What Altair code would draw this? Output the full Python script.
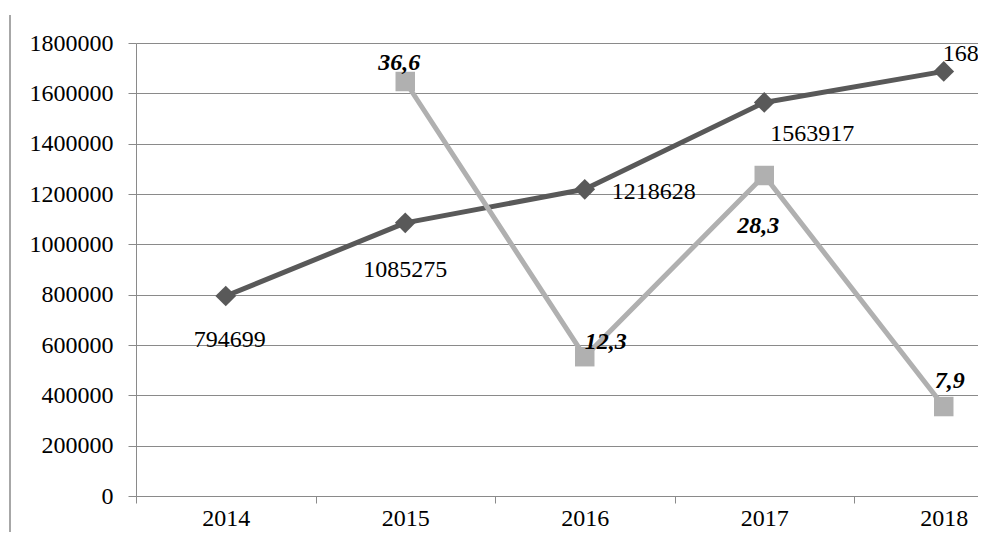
import altair as alt
import pandas as pd

# ---- data ----
years = ["2014", "2015", "2016", "2017", "2018"]
volume = [794699, 1085275, 1218628, 1563917, 1687116]
share_years = ["2015", "2016", "2017", "2018"]
share = [36.6, 12.3, 28.3, 7.9]
y_ticks = [0, 200000, 400000, 600000, 800000, 1000000, 1200000, 1400000, 1600000, 1800000]

df_vol = pd.DataFrame({"year": years, "value": volume})
df_share = pd.DataFrame({"year": share_years, "pct": share})
df_one = pd.DataFrame({"k": [0]})

GRID = "#8a8a8a"
DARK = "#595959"
LIGHT = "#b0b0b0"
FONT = "Liberation Serif"
FS = 24

x_enc = alt.X(
    "year:N",
    scale=alt.Scale(type="band", domain=years, range=[0, 897.5], paddingInner=0, paddingOuter=0),
    axis=alt.Axis(
        title=None, labelAngle=0, tickBand="extent", ticks=True, tickSize=7,
        tickColor=GRID, tickWidth=1, domainColor=GRID, domainWidth=1, grid=False,
        labelFont=FONT, labelFontSize=FS, labelColor="black", labelPadding=3,
    ),
)

y_vol = alt.Y(
    "value:Q",
    scale=alt.Scale(domain=[0, 1800000], nice=False, zero=True),
    axis=alt.Axis(
        values=y_ticks, format="d", title=None, grid=True, gridColor=GRID, gridWidth=1,
        domainColor=GRID, domainWidth=1, tickColor=GRID, tickSize=8, tickWidth=1,
        labelPadding=15, labelFont=FONT, labelFontSize=FS, labelColor="black",
    ),
)

y_pct = alt.Y("pct:Q", scale=alt.Scale(domain=[0, 40], nice=False, zero=True), axis=None)

# outer chart-area frame: left edge
frame_left = alt.Chart(df_one).mark_rule(color=GRID, strokeWidth=1.5).encode(
    x=alt.value(-126), y=alt.value(-28), y2=alt.value(800)
)

base_vol = alt.Chart(df_vol)
vol_line = base_vol.mark_line(color=DARK, strokeWidth=5, strokeJoin="round").encode(x=x_enc, y=y_vol)
vol_pts = base_vol.mark_point(shape="diamond", filled=True, size=430, color=DARK, opacity=1).encode(x=x_enc, y=y_vol)


def vol_label(yr, dx, dy, align):
    return base_vol.transform_filter(alt.datum.year == yr).mark_text(
        dx=dx, dy=dy, align=align, baseline="middle", font=FONT, fontSize=FS, color="black"
    ).encode(x=x_enc, y=y_vol, text=alt.Text("value:Q", format="d"))


vol_labels = [
    vol_label("2014", 4, 44, "center"),
    vol_label("2015", 0, 47, "center"),
    vol_label("2016", 27, 3, "left"),
    vol_label("2017", 48, 32, "center"),
    vol_label("2018", -1, -17, "left"),
]

base_pct = alt.Chart(df_share)
pct_line = base_pct.mark_line(color=LIGHT, strokeWidth=5, strokeJoin="round").encode(x=x_enc, y=y_pct)
pct_pts = base_pct.mark_point(shape="square", filled=True, size=380, color=LIGHT, opacity=1).encode(x=x_enc, y=y_pct)


def pct_label(yr, dx, dy):
    return base_pct.transform_filter(alt.datum.year == yr).transform_calculate(
        lbl="replace(format(datum.pct, '.1f'), '.', ',')"
    ).mark_text(
        dx=dx, dy=dy, align="center", baseline="middle", font=FONT, fontSize=FS,
        fontStyle="italic", fontWeight="bold", color="black"
    ).encode(x=x_enc, y=y_pct, text="lbl:N")


pct_labels = [
    pct_label("2015", -6, -19),
    pct_label("2016", 21, -15),
    pct_label("2017", -6, 50),
    pct_label("2018", 6, -26),
]

vol_layer = alt.layer(vol_line, vol_pts, *vol_labels)
pct_layer = alt.layer(pct_line, pct_pts, *pct_labels)

chart = alt.layer(frame_left, vol_layer, pct_layer).resolve_scale(y="independent").properties(
    width=842,
    height=453,
    autosize=alt.AutoSizeParams(type="none"),
    padding={"left": 128, "top": 35, "right": 0, "bottom": 36},
    background="white",
).configure_view(stroke=None)

chart.save("out.html", embed_options={"renderer": "svg", "actions": False})
